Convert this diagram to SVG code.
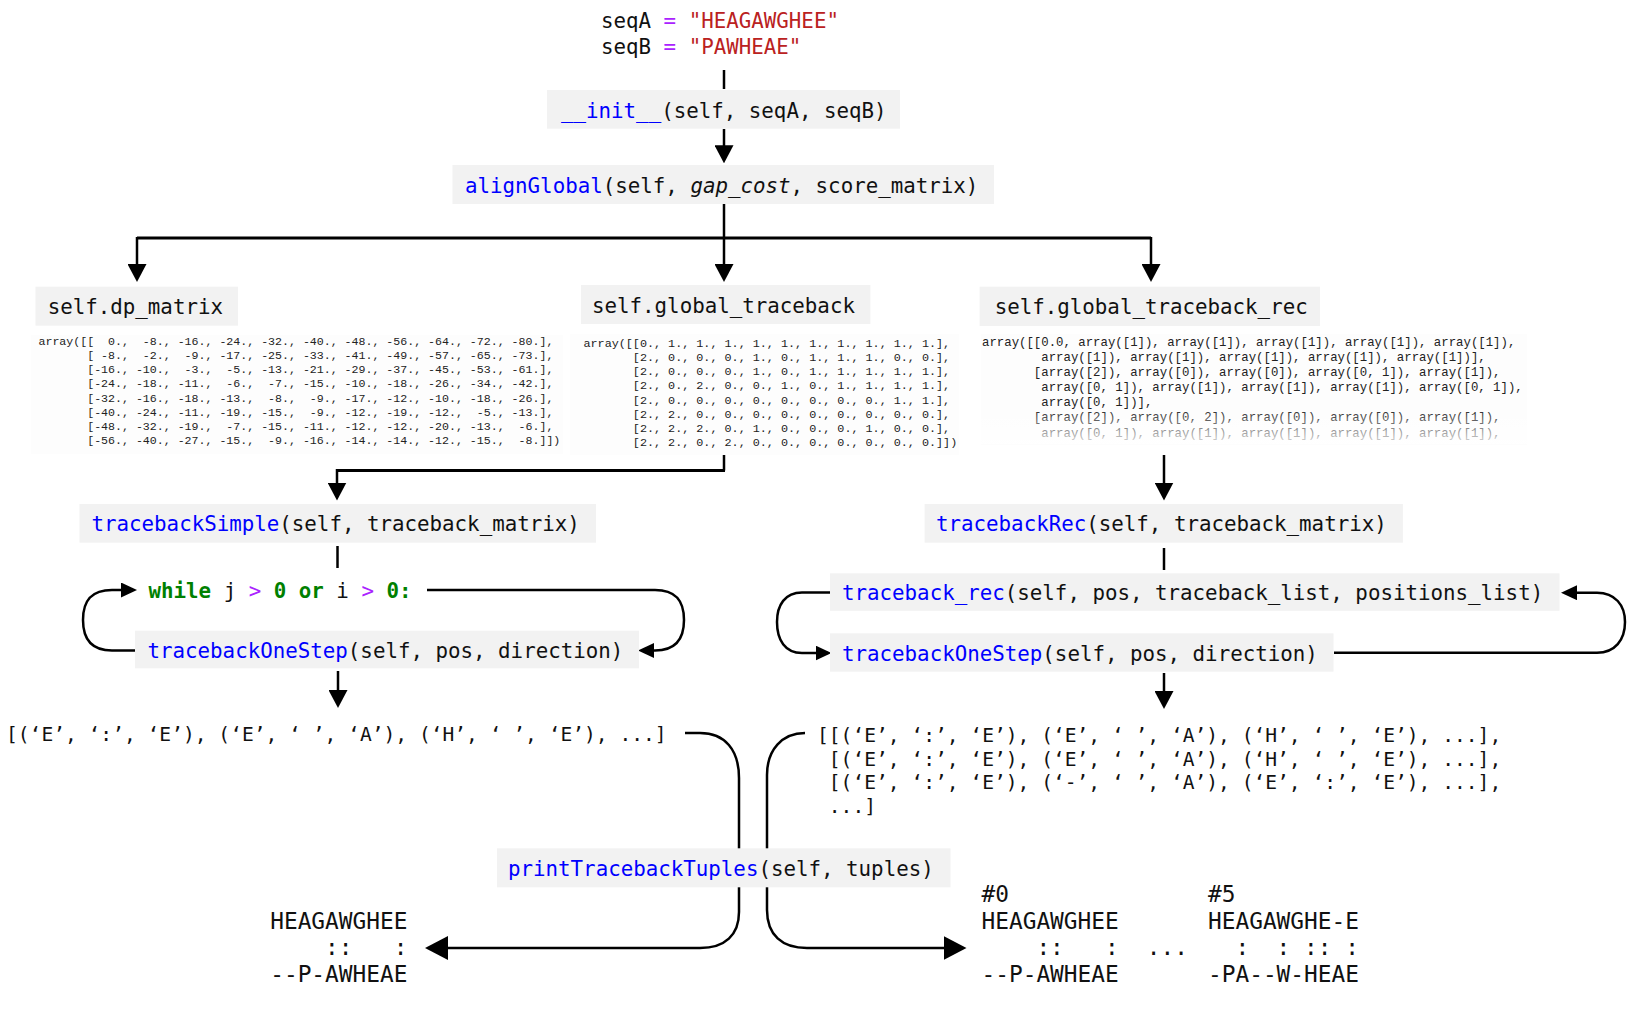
<svg xmlns="http://www.w3.org/2000/svg" width="1635" height="1013" viewBox="0 0 1635 1013">
  <style>
    text { white-space: pre; }
    .code { font-family: "DejaVu Sans Mono", "Liberation Mono", monospace; font-size: 20.8px; fill: #111; }
    .fn { fill: #0000ff; }
    .kw { fill: #008000; font-weight: bold; }
    .op { fill: #aa22ff; }
    .str { fill: #ba2121; }
    .it { font-style: italic; }
    .box { fill: #f2f2f2; }
    .shot { fill: #fdfdfd; }
    .arr { font-family: "Liberation Mono", "DejaVu Sans Mono", monospace; fill: #222; }
    .res { font-size: 19.6px; }
    .aln { font-size: 22.8px; }
    .edge { fill: none; stroke: #000; stroke-width: 2.5; }
    .bar { fill: none; stroke: #000; stroke-width: 3; }
  </style>
  <defs>
    <marker id="ah" markerUnits="userSpaceOnUse" markerWidth="18" markerHeight="19" refX="14" refY="9.5" orient="auto">
      <path d="M0,0 L18,9.5 L0,19 z" fill="#000"/>
    </marker>
    <marker id="ah-s" markerUnits="userSpaceOnUse" markerWidth="16" markerHeight="15" refX="12" refY="7.5" orient="auto">
      <path d="M0,0 L16,7.5 L0,15 z" fill="#000"/>
    </marker>
    <marker id="ah-l" markerUnits="userSpaceOnUse" markerWidth="23" markerHeight="24" refX="19" refY="12" orient="auto">
      <path d="M0,0 L23,12 L0,24 z" fill="#000"/>
    </marker>
    <linearGradient id="fade" x1="0" y1="0" x2="0" y2="1">
      <stop offset="0" stop-color="#fff" stop-opacity="0"/>
      <stop offset="1" stop-color="#fff" stop-opacity="0.85"/>
    </linearGradient>
  </defs>

  <rect width="1635" height="1013" fill="#fff"/>

  <!-- connectors -->
  <g id="connectors">
    <path class="edge" d="M724,70 V89"/>
    <path class="edge" d="M724,129 V159.3" marker-end="url(#ah)"/>
    <path class="edge" d="M724,204 V278" marker-end="url(#ah)"/>
    <path class="bar" d="M137,238 H1151"/>
    <path class="edge" d="M137,237 V278" marker-end="url(#ah)"/>
    <path class="edge" d="M1151,237 V278" marker-end="url(#ah)"/>

    <path class="edge" d="M724,455 V470.5"/>
    <path class="bar" d="M725,470.5 H337"/>
    <path class="edge" d="M337,469 V496.5" marker-end="url(#ah)"/>
    <path class="edge" d="M1164,455 V496.5" marker-end="url(#ah)"/>

    <path class="edge" d="M337.5,546 V568"/>
    <path class="edge" d="M135,650.5 H112 C92,650.5 83,640 83,620 C83,600 92,590 112,590 H133" marker-end="url(#ah-s)"/>
    <path class="edge" d="M427,590 H655 C675,590 684,600 684,620 C684,640 675,650.5 655,650.5 H642" marker-end="url(#ah-s)"/>
    <path class="edge" d="M338,671 V704" marker-end="url(#ah)"/>

    <path class="edge" d="M1164,548 V570"/>
    <path class="edge" d="M830,592.5 H802 C785,592.5 777,605 777,622 C777,640 785,653 802,653 H827.5" marker-end="url(#ah-s)"/>
    <path class="edge" d="M1334,652.7 H1597 C1615,652.7 1625,640 1625,622 C1625,605 1615,592.7 1597,592.7 H1565" marker-end="url(#ah-s)"/>
    <path class="edge" d="M1164,673 V705" marker-end="url(#ah)"/>

    <path class="edge" d="M685,733 H700 C725,733 739,750 739,778 V912 C739,935 725,948 700,948 H429" marker-end="url(#ah-l)"/>
    <path class="edge" d="M805,733 C782,733 767,750 767,775 V910 C767,935 782,948 807,948 H962.5" marker-end="url(#ah-l)"/>
  </g>

  <g id="n-seqs">
    <text class="code" x="601" y="28"><tspan>seqA </tspan><tspan class="op">=</tspan><tspan> </tspan><tspan class="str">"HEAGAWGHEE"</tspan></text>
    <text class="code" x="601" y="53.5"><tspan>seqB </tspan><tspan class="op">=</tspan><tspan> </tspan><tspan class="str">"PAWHEAE"</tspan></text>
  </g>

  <g id="n-init">
    <rect class="box" x="547" y="90" width="353" height="38.7"/>
    <text class="code" x="561" y="117.5"><tspan class="fn">__init__</tspan>(self, seqA, seqB)</text>
  </g>

  <g id="n-alignGlobal">
    <rect class="box" x="452.5" y="165" width="541.5" height="39"/>
    <text class="code" x="465" y="192.5"><tspan class="fn">alignGlobal</tspan>(self, <tspan class="it">gap_cost</tspan>, score_matrix)</text>
  </g>

  <g id="n-dp-matrix">
    <rect class="box" x="35.5" y="286.7" width="202.5" height="39"/>
    <text class="code" x="47.7" y="314.2">self.dp_matrix</text>
    <rect class="shot" x="31" y="335" width="532" height="119"/>
    <g class="arr" font-size="11.6">
      <text x="38.5" y="345">array([[  0.,  -8., -16., -24., -32., -40., -48., -56., -64., -72., -80.],</text>
      <text x="38.5" y="359.1">       [ -8.,  -2.,  -9., -17., -25., -33., -41., -49., -57., -65., -73.],</text>
      <text x="38.5" y="373.3">       [-16., -10.,  -3.,  -5., -13., -21., -29., -37., -45., -53., -61.],</text>
      <text x="38.5" y="387.4">       [-24., -18., -11.,  -6.,  -7., -15., -10., -18., -26., -34., -42.],</text>
      <text x="38.5" y="401.6">       [-32., -16., -18., -13.,  -8.,  -9., -17., -12., -10., -18., -26.],</text>
      <text x="38.5" y="415.7">       [-40., -24., -11., -19., -15.,  -9., -12., -19., -12.,  -5., -13.],</text>
      <text x="38.5" y="429.8">       [-48., -32., -19.,  -7., -15., -11., -12., -12., -20., -13.,  -6.],</text>
      <text x="38.5" y="444">       [-56., -40., -27., -15.,  -9., -16., -14., -14., -12., -15.,  -8.]])</text>
    </g>
  </g>

  <g id="n-global-traceback">
    <rect class="box" x="581" y="285" width="289.4" height="39"/>
    <text class="code" x="592" y="312.5">self.global_traceback</text>
    <rect class="shot" x="570" y="334" width="389" height="121"/>
    <g class="arr" font-size="11.75">
      <text x="583.5" y="347">array([[0., 1., 1., 1., 1., 1., 1., 1., 1., 1., 1.],</text>
      <text x="583.5" y="361.1">       [2., 0., 0., 0., 1., 0., 1., 1., 1., 0., 0.],</text>
      <text x="583.5" y="375.3">       [2., 0., 0., 0., 1., 0., 1., 1., 1., 1., 1.],</text>
      <text x="583.5" y="389.4">       [2., 0., 2., 0., 0., 1., 0., 1., 1., 1., 1.],</text>
      <text x="583.5" y="403.6">       [2., 0., 0., 0., 0., 0., 0., 0., 0., 1., 1.],</text>
      <text x="583.5" y="417.7">       [2., 2., 0., 0., 0., 0., 0., 0., 0., 0., 0.],</text>
      <text x="583.5" y="431.8">       [2., 2., 2., 0., 1., 0., 0., 0., 1., 0., 0.],</text>
      <text x="583.5" y="446">       [2., 2., 0., 2., 0., 0., 0., 0., 0., 0., 0.]])</text>
    </g>
  </g>

  <g id="n-global-traceback-rec">
    <rect class="box" x="979.6" y="286.7" width="340.4" height="39.3"/>
    <text class="code" x="994.7" y="314.3">self.global_traceback_rec</text>
    <rect class="shot" x="981" y="334" width="546" height="111"/>
    <g class="arr" font-size="12.35">
      <text x="982" y="346">array([[0.0, array([1]), array([1]), array([1]), array([1]), array([1]),</text>
      <text x="982" y="361.1">        array([1]), array([1]), array([1]), array([1]), array([1])],</text>
      <text x="982" y="376.2">       [array([2]), array([0]), array([0]), array([0, 1]), array([1]),</text>
      <text x="982" y="391.2">        array([0, 1]), array([1]), array([1]), array([1]), array([0, 1]),</text>
      <text x="982" y="406.3">        array([0, 1])],</text>
      <text x="982" y="421.4">       [array([2]), array([0, 2]), array([0]), array([0]), array([1]),</text>
      <text x="982" y="436.5">        array([0, 1]), array([1]), array([1]), array([1]), array([1]),</text>
    </g>
    <rect x="975" y="408" width="560" height="36" fill="url(#fade)"/>
  </g>

  <g id="n-tracebackSimple">
    <rect class="box" x="79.5" y="504" width="516.5" height="38.7"/>
    <text class="code" x="91.5" y="531.3"><tspan class="fn">tracebackSimple</tspan>(self, traceback_matrix)</text>
  </g>

  <g id="n-while">
    <text class="code" x="148.5" y="597.5"><tspan class="kw">while</tspan> j <tspan class="op">&gt;</tspan> <tspan class="kw">0</tspan> <tspan class="kw">or</tspan> i <tspan class="op">&gt;</tspan> <tspan class="kw">0:</tspan></text>
  </g>

  <g id="n-tracebackOneStep-simple">
    <rect class="box" x="135" y="630.7" width="504" height="37.6"/>
    <text class="code" x="147.5" y="657.5"><tspan class="fn">tracebackOneStep</tspan>(self, pos, direction)</text>
  </g>

  <g id="n-simple-tuples">
    <text class="code res" x="6" y="740.5">[(‘E’, ‘:’, ‘E’), (‘E’, ‘ ’, ‘A’), (‘H’, ‘ ’, ‘E’), ...]</text>
  </g>

  <g id="n-tracebackRec">
    <rect class="box" x="924.6" y="504" width="478.3" height="38.7"/>
    <text class="code" x="936" y="531.3"><tspan class="fn">tracebackRec</tspan>(self, traceback_matrix)</text>
  </g>

  <g id="n-traceback_rec">
    <rect class="box" x="830" y="573.3" width="729.5" height="37.5"/>
    <text class="code" x="842" y="600"><tspan class="fn">traceback_rec</tspan>(self, pos, traceback_list, positions_list)</text>
  </g>

  <g id="n-tracebackOneStep-rec">
    <rect class="box" x="830" y="633.3" width="503.5" height="38.4"/>
    <text class="code" x="842" y="660.5"><tspan class="fn">tracebackOneStep</tspan>(self, pos, direction)</text>
  </g>

  <g id="n-rec-tuples" class="code res">
    <text x="817" y="742">[[(‘E’, ‘:’, ‘E’), (‘E’, ‘ ’, ‘A’), (‘H’, ‘ ’, ‘E’), ...],</text>
    <text x="817" y="765.5"> [(‘E’, ‘:’, ‘E’), (‘E’, ‘ ’, ‘A’), (‘H’, ‘ ’, ‘E’), ...],</text>
    <text x="817" y="789"> [(‘E’, ‘:’, ‘E’), (‘-’, ‘ ’, ‘A’), (‘E’, ‘:’, ‘E’), ...],</text>
    <text x="817" y="812.5"> ...]</text>
  </g>

  <g id="n-printTracebackTuples">
    <rect class="box" x="497" y="848.3" width="453.5" height="39"/>
    <text class="code" x="508" y="875.8"><tspan class="fn">printTracebackTuples</tspan>(self, tuples)</text>
  </g>

  <g id="n-alignment-simple" class="code aln">
    <text x="270.2" y="928.5">HEAGAWGHEE</text>
    <text x="270.2" y="955">    ::   :</text>
    <text x="270.2" y="981.7">--P-AWHEAE</text>
  </g>

  <g id="n-alignment-rec" class="code aln">
    <text x="981.5" y="901.5">#0</text>
    <text x="981.5" y="928.5">HEAGAWGHEE</text>
    <text x="981.5" y="955">    ::   :</text>
    <text x="981.5" y="981.7">--P-AWHEAE</text>
    <text x="1146.8" y="955">...</text>
    <text x="1208" y="901.5">#5</text>
    <text x="1208" y="928.5">HEAGAWGHE-E</text>
    <text x="1208" y="955">  :  : :: :</text>
    <text x="1208" y="981.7">-PA--W-HEAE</text>
  </g>
</svg>
